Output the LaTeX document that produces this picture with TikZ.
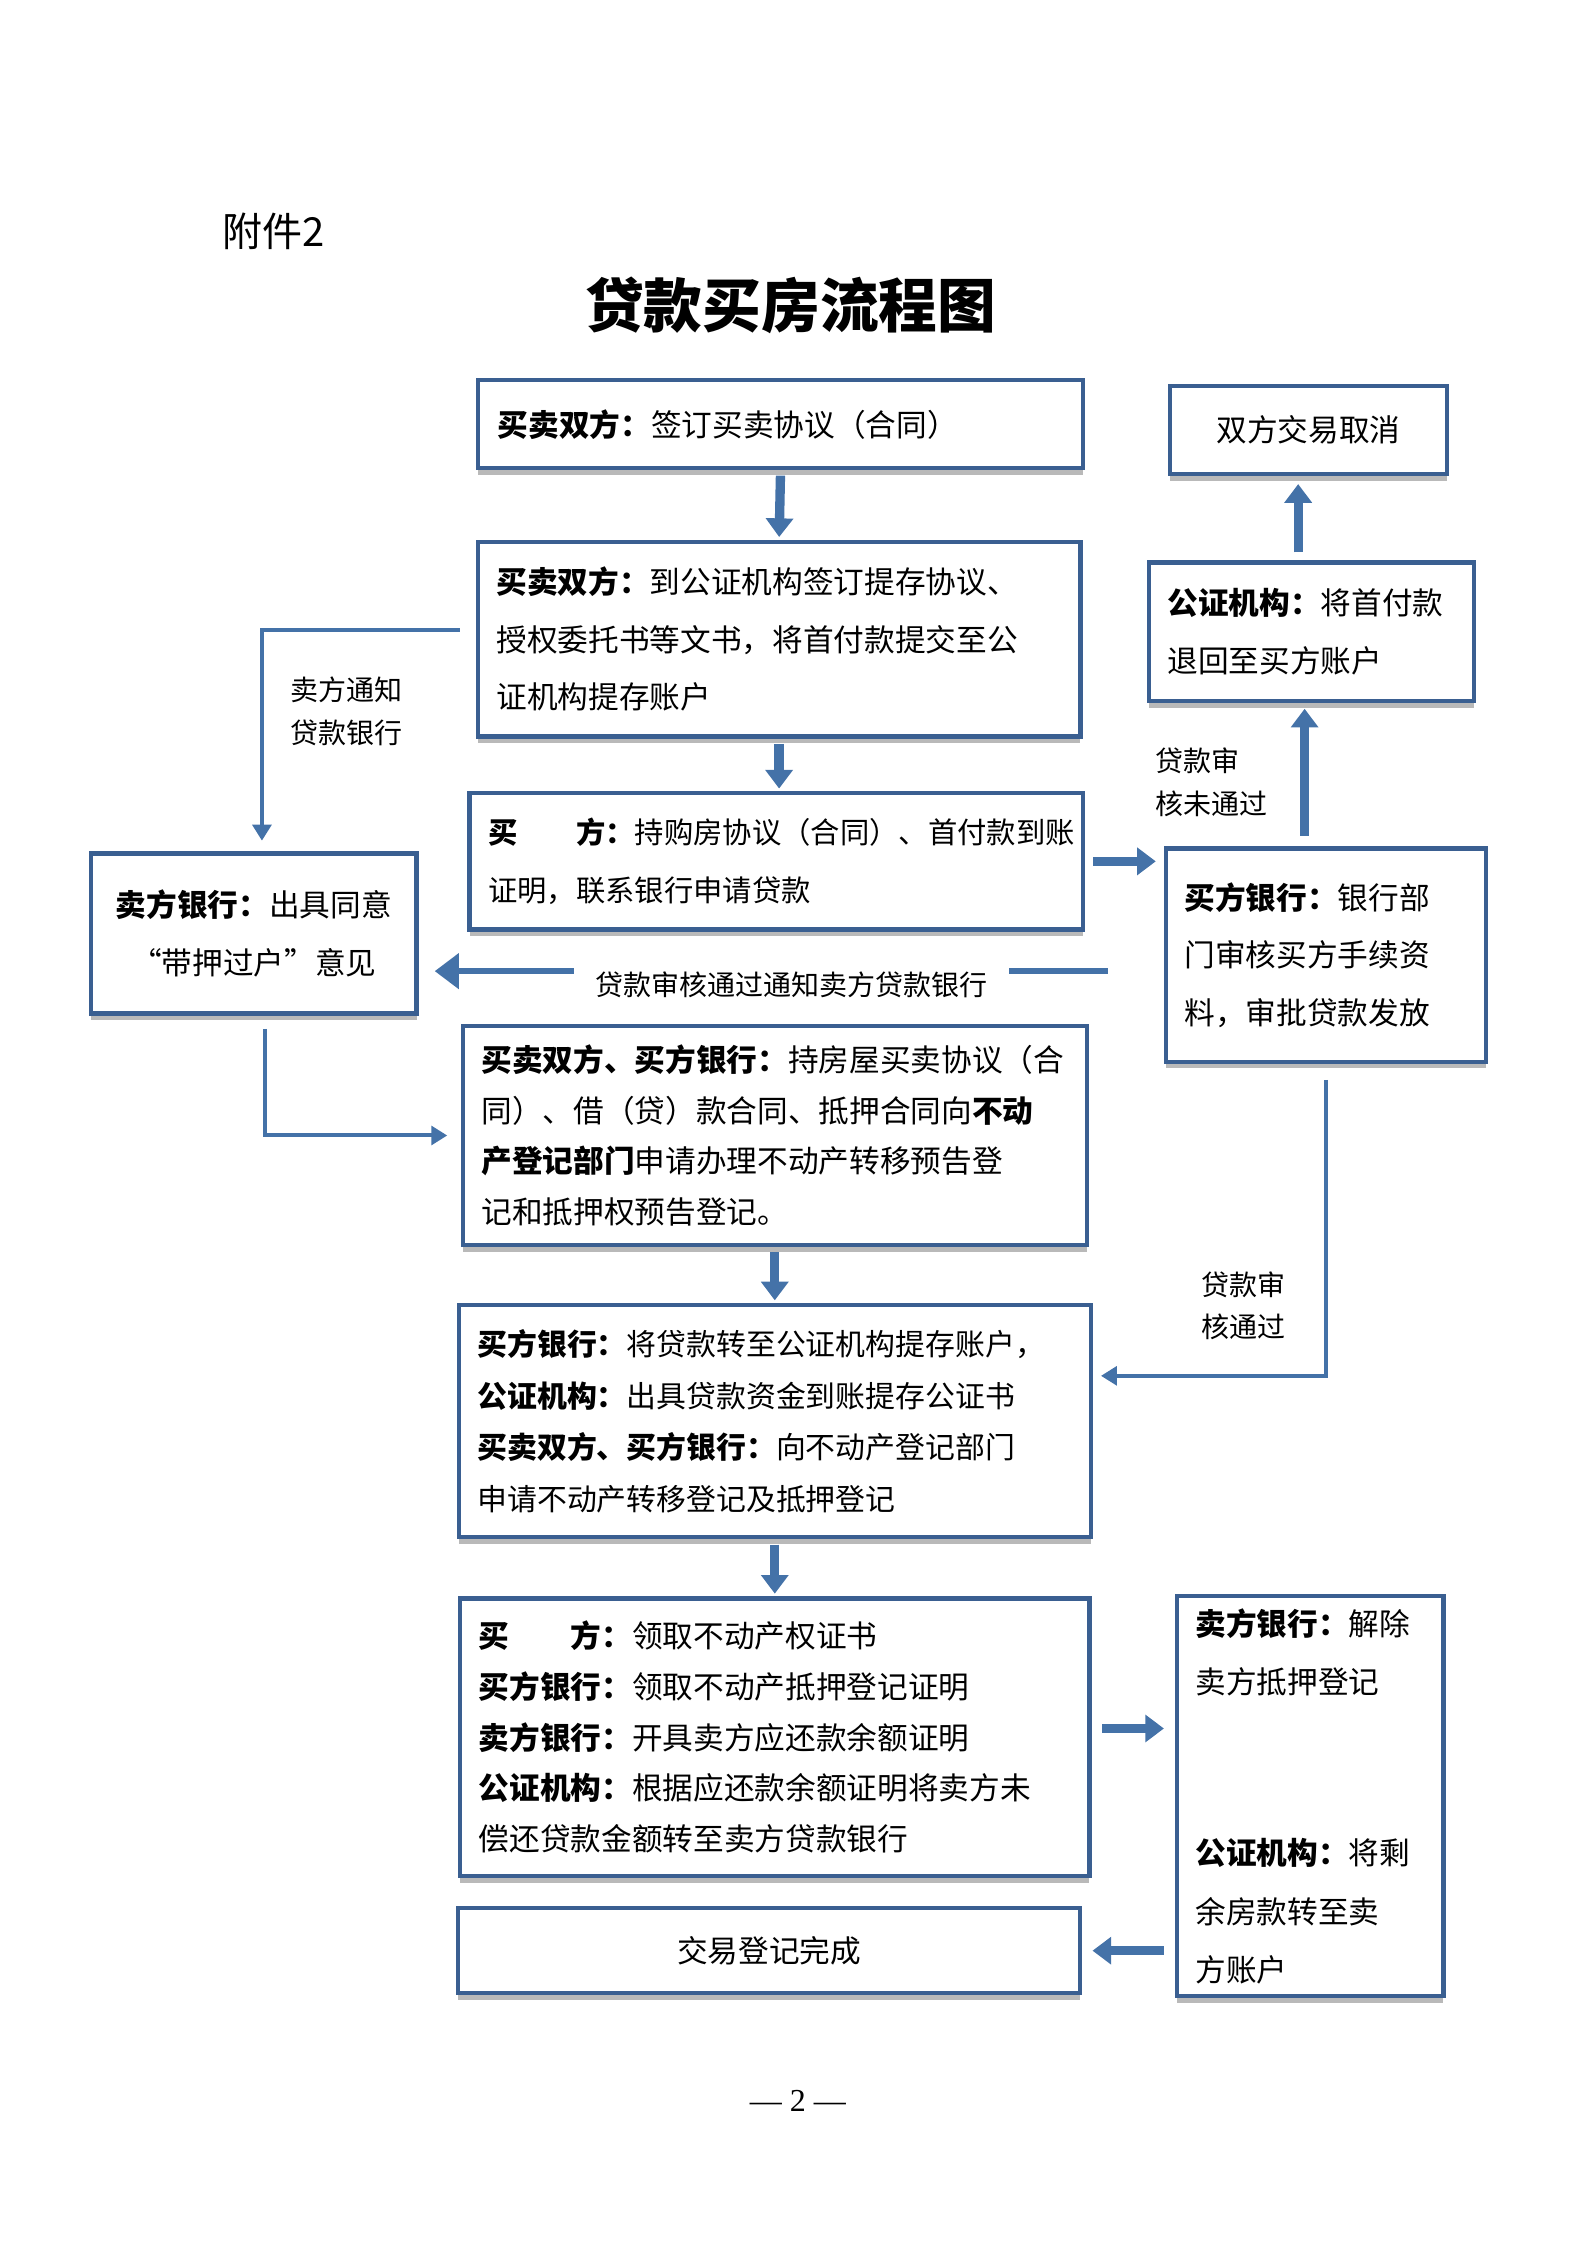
\documentclass[tikz,border=0pt]{standalone}
\usepackage{fontspec}
\setmainfont{Liberation Serif}
\newfontfamily\cjk{Noto Sans CJK SC}
\usetikzlibrary{arrows.meta,shadows,calc}
\definecolor{boxblue}{HTML}{3A5F91}
\definecolor{arrowblue}{HTML}{4472A8}
\tikzset{
  flowbox/.style={draw=boxblue, line width=1.6pt, fill=white, align=left, anchor=center,
    inner xsep=7pt, font=\cjk\fontsize{11.5}{20}\selectfont,
    drop shadow={shadow xshift=0pt, shadow yshift=-2.5pt, fill=gray!55, opacity=1}},
  fatarrow/.style={draw=arrowblue, line width=3.5pt, -{Triangle[length=7pt,width=10pt]}},
  thinarrow/.style={draw=arrowblue, line width=1.5pt, -{Triangle[length=6pt,width=7pt]}},
  bigtip/.style={draw=arrowblue, line width=2pt, -{Triangle[length=9pt,width=13pt]}},
  note/.style={font=\cjk\fontsize{10.5}{16}\selectfont, align=left},
}
\newcommand{\lb}[1]{\textbf{#1}}
\begin{document}
\begin{tikzpicture}[x=0.541pt, y=-0.541pt]
\useasboundingbox (0,0) rectangle (1100,1556);
% header and title
\node[font=\cjk\fontsize{15}{18}\selectfont, anchor=west] (att) at (148,160) {附件2};
\node[font=\cjk\bfseries\fontsize{22}{26}\selectfont] (title) at (548,212) {贷款买房流程图};
% boxes
\node[flowbox, minimum width=227pt, minimum height=33pt, text width=212pt] (b1) at (541,294)
  {\lb{买卖双方：}签订买卖协议（合同）};
\node[flowbox, minimum width=104pt, minimum height=33pt, align=center] (cancel) at (907,298)
  {双方交易取消};
\node[flowbox, minimum width=226pt, minimum height=73pt, text width=212pt, font=\cjk\fontsize{11.5}{21.6}\selectfont] (b2) at (540,443)
  {\lb{买卖双方：}到公证机构签订提存协议、\\授权委托书等文书，将首付款提交至公\\证机构提存账户};
\node[flowbox, minimum width=121pt, minimum height=52pt, text width=108pt, font=\cjk\fontsize{11.5}{21.6}\selectfont] (refund) at (909,438)
  {\lb{公证机构：}将首付款\\退回至买方账户};
\node[flowbox, minimum width=228pt, minimum height=51pt, text width=216pt, font=\cjk\fontsize{11}{21.6}\selectfont] (b3) at (538,597)
  {\lb{买　　方：}持购房协议（合同）、首付款到账\\证明，联系银行申请贷款};
\node[flowbox, minimum width=122pt, minimum height=60pt, align=center, font=\cjk\fontsize{11.5}{21.6}\selectfont] (seller) at (176,647)
  {\lb{卖方银行：}出具同意\\“带押过户”意见};
\node[flowbox, minimum width=118pt, minimum height=80pt, text width=106pt, font=\cjk\fontsize{11.5}{21.6}\selectfont] (buyer) at (919,662)
  {\lb{买方银行：}银行部\\门审核买方手续资\\料，审批贷款发放};
\node[flowbox, minimum width=232pt, minimum height=82pt, text width=220pt, font=\cjk\fontsize{11.5}{19}\selectfont] (b4) at (537,787)
  {\lb{买卖双方、买方银行：}持房屋买卖协议（合\\同）、借（贷）款合同、抵押合同向\lb{不动}\\\lb{产登记部门}申请办理不动产转移预告登\\记和抵押权预告登记。};
\node[flowbox, minimum width=235pt, minimum height=87pt, text width=223pt, font=\cjk\fontsize{11.2}{19.3}\selectfont] (b5) at (537,985)
  {\lb{买方银行：}将贷款转至公证机构提存账户，\\\lb{公证机构：}出具贷款资金到账提存公证书\\\lb{买卖双方、买方银行：}向不动产登记部门\\申请不动产转移登记及抵押登记};
\node[flowbox, minimum width=234pt, minimum height=104pt, text width=222pt, font=\cjk\fontsize{11.5}{19}\selectfont] (b6) at (537,1204)
  {\lb{买　　方：}领取不动产权证书\\\lb{买方银行：}领取不动产抵押登记证明\\\lb{卖方银行：}开具卖方应还款余额证明\\\lb{公证机构：}根据应还款余额证明将卖方未\\偿还贷款金额转至卖方贷款银行};
\node[flowbox, minimum width=97pt, minimum height=150pt, text width=86pt, font=\cjk\fontsize{11.5}{22}\selectfont] (release) at (908,1245)
  {\lb{卖方银行：}解除\\卖方抵押登记\\[42pt]\lb{公证机构：}将剩\\余房款转至卖\\方账户};
\node[flowbox, minimum width=233pt, minimum height=32pt, align=center] (done) at (533,1352)
  {交易登记完成};
% main flow
\draw[fatarrow, shorten <=2pt, shorten >=1pt] (b1.south) -- (b2.north);
\draw[fatarrow, shorten <=2pt, shorten >=1pt] (b2.south) -- (b2.south |- b3.north);
\draw[fatarrow, shorten <=2pt, shorten >=1pt] (b4.south) -- (b5.north);
\draw[fatarrow, shorten <=2pt, shorten >=1pt] (b5.south) -- (b6.north);
\draw[fatarrow, shorten <=3pt, shorten >=3pt] (b3.east) -- (b3.east -| buyer.west);
\draw[fatarrow, shorten <=4pt, shorten >=4pt] (b6.east |- 0,1198) -- (release.west |- 0,1198);
\draw[fatarrow, shorten <=4pt, shorten >=4pt] (release.west |- done.east) -- (done.east);
\draw[fatarrow, shorten <=3pt, shorten >=3pt] ([xshift=-5pt]refund.north) -- ([xshift=-5pt]refund.north |- cancel.south);
\draw[fatarrow, shorten <=4pt, shorten >=2pt] ([xshift=-8pt]buyer.north) -- ([xshift=-8pt]buyer.north |- refund.south);
% side connectors
\draw[thinarrow, shorten >=4pt] ([xshift=-6pt,yshift=3.5pt]b2.west) -| ([xshift=3pt]seller.north);
\draw[thinarrow, shorten <=5pt, shorten >=5pt] ([xshift=4pt]seller.south) |- (b4.west);
\draw[thinarrow, shorten <=6pt, shorten >=3pt] (buyer.south) |- ([yshift=17pt]b5.east);
\draw[bigtip, shorten <=21pt, shorten >=6pt] ([yshift=-6pt]buyer.west) -- node[pos=0.5, fill=white, yshift=-5pt, inner xsep=8pt, note] (okseller) {贷款审核通过通知卖方贷款银行} ([yshift=-6pt]buyer.west -| seller.east);
% connector labels
\node[note] (notice) at (240,493) {卖方通知\\贷款银行};
\node[note] (fail) at (840,542) {贷款审\\核未通过};
\node[note] (pass) at (862,905) {贷款审\\核通过};
% page number
\node[font=\fontsize{12}{14}\selectfont] (page) at (553,1456) {— 2 —};
\end{tikzpicture}
\end{document}
